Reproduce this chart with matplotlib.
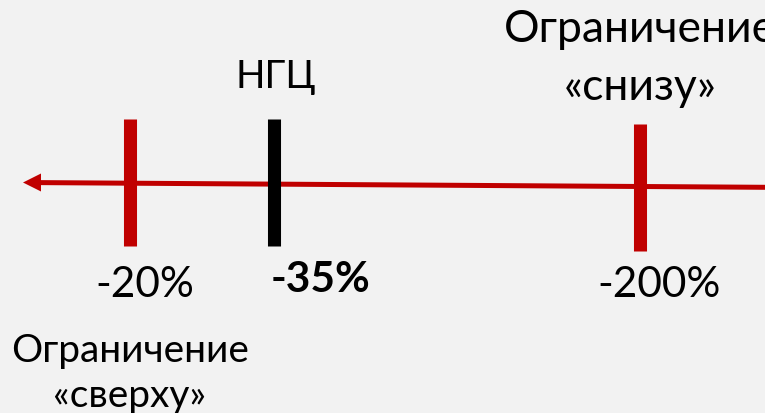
import matplotlib.pyplot as plt
from matplotlib.patches import Polygon

plt.rcParams['font.family'] = ['Lato', 'Open Sans', 'DejaVu Sans']

# data
values = ['-20%', '-35%', '-200%']
tick_colors = ['#c00000', '#000000', '#c00000']
value_bold = [False, True, False]
top_labels = ['НГЦ', 'Ограничение\n«снизу»']
bottom_label = 'Ограничение\n«сверху»'

RED = '#c00000'
BG = '#f2f2f2'

# layout (pixel space of the 765x413 canvas)
tick_x = [130.5, 274, 640.5]
tick_y = [(119, 246), (119, 246), (124, 251)]
value_pos = [(144.5, 297), (320.5, 292), (659, 297)]

fig = plt.figure(figsize=(7.65, 4.13), dpi=100, facecolor=BG)
ax = fig.add_axes([0, 0, 1, 1])
ax.set_xlim(0, 765)
ax.set_ylim(413, 0)
ax.axis('off')

# main axis line with arrow pointing left
ax.plot([765, 38], [187.3, 182.6], color=RED, lw=3.6, solid_capstyle='butt', zorder=2)
ax.add_patch(Polygon([[23, 182.5], [41, 173.5], [41, 191.5]], closed=True,
                     color=RED, lw=0, zorder=2))

# tick marks
for x, (y0, y1), c in zip(tick_x, tick_y, tick_colors):
    ax.plot([x, x], [y0, y1], color=c, lw=9.4, solid_capstyle='butt', zorder=3)

# value labels
for (x, y), txt, b in zip(value_pos, values, value_bold):
    ax.text(x, y, txt, ha='center', va='baseline', fontsize=30.5,
            fontweight='bold' if b else 'normal', color='black')

# labels above
ax.text(276, 88, top_labels[0], ha='center', va='baseline', fontsize=28)
l1, l2 = top_labels[1].split('\n')
ax.text(640, 42, l1, ha='center', va='baseline', fontsize=32)
ax.text(640, 100, l2, ha='center', va='baseline', fontsize=32)

# label below
b1, b2 = bottom_label.split('\n')
ax.text(130, 362, b1, ha='center', va='baseline', fontsize=28)
ax.text(130, 407, b2, ha='center', va='baseline', fontsize=28)

fig.savefig('out.png', dpi=100, facecolor=BG)
